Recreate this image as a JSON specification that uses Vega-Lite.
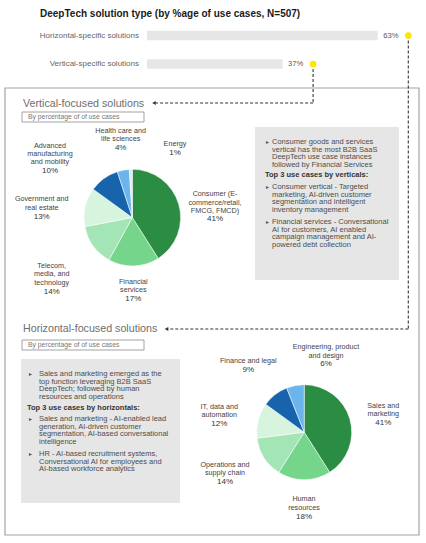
{
 "$schema": "https://vega.github.io/schema/vega-lite/v6.json",
 "width": 426, "height": 543,
 "autosize": {"type": "none"},
 "padding": 0,
 "background": "white",
 "config": {"view": {"stroke": null}, "text": {"font": "Liberation Sans", "fontSize": 7.2, "color": "#444", "align": "left"}},
 "datasets": {
  "blank": [{}],
  "bars": [
   {"type": "Horizontal-specific solutions", "share": 0.63},
   {"type": "Vertical-specific solutions", "share": 0.37}
  ],
  "v": [
   {"k": 1, "sector": "Consumer (E-commerce/retail, FMCG, FMCD)", "share": 0.41, "label": ["Consumer (E-", "commerce/retail,", "FMCG, FMCD)"]},
   {"k": 2, "sector": "Financial services", "share": 0.17, "label": ["Financial", "services"]},
   {"k": 3, "sector": "Telecom, media, and technology", "share": 0.14, "label": ["Telecom,", "media, and", "technology"]},
   {"k": 4, "sector": "Government and real estate", "share": 0.13, "label": ["Government and", "real estate"]},
   {"k": 5, "sector": "Advanced manufacturing and mobility", "share": 0.10, "label": ["Advanced", "manufacturing", "and mobility"]},
   {"k": 6, "sector": "Health care and life sciences", "share": 0.04, "label": ["Health care and", "life sciences"]},
   {"k": 7, "sector": "Energy", "share": 0.01, "label": ["Energy"]}
  ],
  "h": [
   {"k": 1, "sector": "Sales and marketing", "share": 0.41, "label": ["Sales and", "marketing"]},
   {"k": 2, "sector": "Human resources", "share": 0.18, "label": ["Human", "resources"]},
   {"k": 3, "sector": "Operations and supply chain", "share": 0.14, "label": ["Operations and", "supply chain"]},
   {"k": 4, "sector": "IT, data and automation", "share": 0.12, "label": ["IT, data and", "automation"]},
   {"k": 5, "sector": "Finance and legal", "share": 0.09, "label": ["Finance and legal"]},
   {"k": 6, "sector": "Engineering, product and design", "share": 0.06, "label": ["Engineering, product", "and design"]}
  ]
 },
 "resolve": {"scale": {"x": "independent", "y": "independent", "theta": "independent", "color": "independent"}},
 "layer": [
  {"data": {"name": "blank"}, "mark": {"type": "rect", "x": 5, "x2": 419, "y": 88, "y2": 535, "fill": "white", "stroke": "#a3a3a3", "strokeWidth": 1.2}, "encoding": {}},
  {"data": {"name": "blank"}, "mark": {"type": "rect", "x": 255, "x2": 399, "y": 127, "y2": 280, "fill": "#e6e6e6"}, "encoding": {}},
  {"data": {"name": "blank"}, "mark": {"type": "rect", "x": 21, "x2": 180, "y": 359, "y2": 503, "fill": "#e6e6e6"}, "encoding": {}},
  {"data": {"name": "blank"}, "mark": {"type": "rect", "x": 22, "x2": 144, "y": 112, "y2": 122, "fillOpacity": 0, "stroke": "#8a8a8a", "strokeWidth": 0.8}, "encoding": {}},
  {"data": {"name": "blank"}, "mark": {"type": "rect", "x": 22, "x2": 144, "y": 340, "y2": 350, "fillOpacity": 0, "stroke": "#8a8a8a", "strokeWidth": 0.8}, "encoding": {}},
  {"data": {"name": "blank"}, "mark": {"type": "text", "x": 40, "y": 14, "baseline": "middle", "fontSize": 10, "fontWeight": "bold", "color": "#1a1a1a", "text": "DeepTech solution type (by %age of use cases, N=507)"}, "encoding": {}},
  {"data": {"name": "blank"}, "mark": {"type": "text", "x": 23, "y": 104, "baseline": "middle", "fontSize": 10.7, "color": "#6e6e6e", "text": "Vertical-focused solutions"}, "encoding": {}},
  {"data": {"name": "blank"}, "mark": {"type": "text", "x": 23, "y": 329, "baseline": "middle", "fontSize": 10.7, "color": "#6e6e6e", "text": "Horizontal-focused solutions"}, "encoding": {}},
  {"data": {"name": "blank"}, "mark": {"type": "text", "x": 28, "y": 117, "baseline": "middle", "fontSize": 6.8, "color": "#777", "text": "By percentage of of use cases"}, "encoding": {}},
  {"data": {"name": "blank"}, "mark": {"type": "text", "x": 28, "y": 345, "baseline": "middle", "fontSize": 6.8, "color": "#777", "text": "By percentage of of use cases"}, "encoding": {}},
  {"data": {"name": "blank"}, "mark": {"type": "text", "x": 272, "y": 138, "baseline": "top", "fontSize": 7.5, "lineHeight": 7.6, "color": "#4d4d4d", "text": ["Consumer goods and services", "vertical has the most B2B SaaS", "DeepTech use case instances", "followed by Financial Services"]}, "encoding": {}},
  {"data": {"name": "blank"}, "mark": {"type": "text", "x": 265, "y": 175, "baseline": "middle", "fontSize": 7.5, "fontWeight": "bold", "color": "#333", "text": "Top 3 use cases by verticals:"}, "encoding": {}},
  {"data": {"name": "blank"}, "mark": {"type": "text", "x": 272, "y": 183, "baseline": "top", "fontSize": 7.5, "lineHeight": 7.6, "color": "#4d4d4d", "text": ["Consumer vertical - Targeted", "marketing, AI-driven customer", "segmentation and intelligent", "inventory management"]}, "encoding": {}},
  {"data": {"name": "blank"}, "mark": {"type": "text", "x": 272, "y": 218, "baseline": "top", "fontSize": 7.5, "lineHeight": 7.6, "color": "#4d4d4d", "text": ["Financial services - Conversational", "AI for customers, AI enabled", "campaign management and AI-", "powered debt collection"]}, "encoding": {}},
  {"data": {"name": "blank"}, "mark": {"type": "text", "x": 265, "y": 142, "baseline": "middle", "fontSize": 5, "color": "#555", "text": "►"}, "encoding": {}},
  {"data": {"name": "blank"}, "mark": {"type": "text", "x": 265, "y": 187, "baseline": "middle", "fontSize": 5, "color": "#555", "text": "►"}, "encoding": {}},
  {"data": {"name": "blank"}, "mark": {"type": "text", "x": 265, "y": 222, "baseline": "middle", "fontSize": 5, "color": "#555", "text": "►"}, "encoding": {}},
  {"data": {"name": "blank"}, "mark": {"type": "text", "x": 39, "y": 370, "baseline": "top", "fontSize": 7.5, "lineHeight": 7.6, "color": "#4d4d4d", "text": ["Sales and marketing emerged as the", "top function leveraging B2B SaaS", "DeepTech; followed by human", "resources and operations"]}, "encoding": {}},
  {"data": {"name": "blank"}, "mark": {"type": "text", "x": 27, "y": 407.7, "baseline": "middle", "fontSize": 7.5, "fontWeight": "bold", "color": "#333", "text": "Top 3 use cases by horizontals:"}, "encoding": {}},
  {"data": {"name": "blank"}, "mark": {"type": "text", "x": 39, "y": 415.3, "baseline": "top", "fontSize": 7.5, "lineHeight": 7.6, "color": "#4d4d4d", "text": ["Sales and marketing - AI-enabled lead", "generation, AI-driven customer", "segmentation, AI-based conversational", "intelligence"]}, "encoding": {}},
  {"data": {"name": "blank"}, "mark": {"type": "text", "x": 39, "y": 450.3, "baseline": "top", "fontSize": 7.5, "lineHeight": 7.6, "color": "#4d4d4d", "text": ["HR - AI-based recruitment systems,", "Conversational AI for employees and", "AI-based workforce analytics"]}, "encoding": {}},
  {"data": {"name": "blank"}, "mark": {"type": "text", "x": 28, "y": 374, "baseline": "middle", "fontSize": 5, "color": "#555", "text": "►"}, "encoding": {}},
  {"data": {"name": "blank"}, "mark": {"type": "text", "x": 28, "y": 419.3, "baseline": "middle", "fontSize": 5, "color": "#555", "text": "►"}, "encoding": {}},
  {"data": {"name": "blank"}, "mark": {"type": "text", "x": 28, "y": 454.3, "baseline": "middle", "fontSize": 5, "color": "#555", "text": "►"}, "encoding": {}},
  {"data": {"name": "blank"}, "mark": {"type": "rule", "x": 147, "y": 29, "y2": 78, "stroke": "#dcdcdc", "strokeWidth": 1}, "encoding": {}},
  {
   "data": {"name": "bars"},
   "encoding": {
    "y": {"field": "type", "type": "nominal", "bandPosition": 0.5, "scale": {"type": "band", "range": [21.25, 78.25], "paddingInner": 0, "paddingOuter": 0}, "axis": null},
    "x": {"field": "share", "type": "quantitative", "scale": {"domain": [0, 0.63], "range": [147, 377.7]}, "axis": null}
   },
   "layer": [
    {"transform": [{"filter": "datum.type == 'Vertical-specific solutions'"}], "mark": {"type": "rule", "xOffset": 30.6, "strokeDash": [3, 2], "stroke": "#333", "strokeWidth": 1.1}, "encoding": {"y2": {"value": 103}}},
    {"transform": [{"filter": "datum.type == 'Horizontal-specific solutions'"}], "mark": {"type": "rule", "xOffset": 30.6, "strokeDash": [3, 2], "stroke": "#333", "strokeWidth": 1.1}, "encoding": {"y2": {"value": 329}}},
    {"transform": [{"filter": "datum.type == 'Vertical-specific solutions'"}], "mark": {"type": "rule", "xOffset": 30.6, "strokeDash": [3, 2], "stroke": "#333", "strokeWidth": 1.1}, "encoding": {"x2": {"value": 156}, "y": {"value": 103}}},
    {"transform": [{"filter": "datum.type == 'Horizontal-specific solutions'"}], "mark": {"type": "rule", "xOffset": 30.6, "strokeDash": [3, 2], "stroke": "#333", "strokeWidth": 1.1}, "encoding": {"x2": {"value": 168}, "y": {"value": 329}}},
    {"mark": {"type": "bar", "size": 9.5, "color": "#e6e6e6"}},
    {"mark": {"type": "text", "align": "left", "baseline": "middle", "dx": 5.5, "fontSize": 7.6, "color": "#555"}, "encoding": {"text": {"field": "share", "format": ".0%"}}},
    {"mark": {"type": "text", "align": "right", "baseline": "middle", "dx": -8, "fontSize": 8, "color": "#666"}, "encoding": {"x": {"datum": 0, "type": "quantitative"}, "text": {"field": "type"}}},
    {"mark": {"type": "point", "filled": true, "xOffset": 30.6, "size": 45, "color": "#ffe600", "opacity": 1}}
   ]
  },
  {"data": {"name": "blank"}, "mark": {"type": "point", "shape": "triangle-left", "filled": true, "x": 154, "y": 103, "size": 18, "color": "#333", "opacity": 1}, "encoding": {}},
  {"data": {"name": "blank"}, "mark": {"type": "point", "shape": "triangle-left", "filled": true, "x": 166.5, "y": 329, "size": 18, "color": "#333", "opacity": 1}, "encoding": {}},
  {"data": {"name": "blank"}, "mark": {"type": "rule", "x": 181, "y": 206, "x2": 190, "y2": 204, "stroke": "#999", "strokeWidth": 0.7}, "encoding": {}},
  {"data": {"name": "blank"}, "mark": {"type": "rule", "x": 132.5, "y": 266, "x2": 132.5, "y2": 276, "stroke": "#999", "strokeWidth": 0.7}, "encoding": {}},
  {"data": {"name": "blank"}, "mark": {"type": "rule", "x": 92, "y": 246, "x2": 67, "y2": 272, "stroke": "#999", "strokeWidth": 0.7}, "encoding": {}},
  {"data": {"name": "blank"}, "mark": {"type": "rule", "x": 68, "y": 205, "x2": 85, "y2": 205, "stroke": "#999", "strokeWidth": 0.7}, "encoding": {}},
  {"data": {"name": "blank"}, "mark": {"type": "rule", "x": 73, "y": 157, "x2": 103, "y2": 177, "stroke": "#999", "strokeWidth": 0.7}, "encoding": {}},
  {"data": {"name": "blank"}, "mark": {"type": "rule", "x": 124, "y": 154, "x2": 124, "y2": 170, "stroke": "#999", "strokeWidth": 0.7}, "encoding": {}},
  {"data": {"name": "blank"}, "mark": {"type": "rule", "x": 156, "y": 150, "x2": 131, "y2": 169, "stroke": "#999", "strokeWidth": 0.7}, "encoding": {}},
  {"data": {"name": "blank"}, "mark": {"type": "rule", "x": 352, "y": 419, "x2": 366, "y2": 415, "stroke": "#999", "strokeWidth": 0.7}, "encoding": {}},
  {"data": {"name": "blank"}, "mark": {"type": "rule", "x": 304.2, "y": 480, "x2": 304.2, "y2": 492, "stroke": "#999", "strokeWidth": 0.7}, "encoding": {}},
  {"data": {"name": "blank"}, "mark": {"type": "rule", "x": 262, "y": 459, "x2": 250, "y2": 466, "stroke": "#999", "strokeWidth": 0.7}, "encoding": {}},
  {"data": {"name": "blank"}, "mark": {"type": "rule", "x": 240, "y": 416, "x2": 259, "y2": 421, "stroke": "#999", "strokeWidth": 0.7}, "encoding": {}},
  {"data": {"name": "blank"}, "mark": {"type": "rule", "x": 277, "y": 370, "x2": 277, "y2": 394, "stroke": "#999", "strokeWidth": 0.7}, "encoding": {}},
  {"data": {"name": "blank"}, "mark": {"type": "rule", "x": 306, "y": 358, "x2": 295, "y2": 386, "stroke": "#999", "strokeWidth": 0.7}, "encoding": {}},
  {"data": {"name": "blank"}, "mark": {"type": "rule", "x": 306, "y": 358, "x2": 311, "y2": 358, "stroke": "#999", "strokeWidth": 0.7}, "encoding": {}},
  {"data": {"name": "v"}, "mark": {"type": "arc", "x": 132.3, "y": 217.6, "outerRadius": 48.3, "stroke": "white", "strokeWidth": 0.5},
   "encoding": {
    "theta": {"field": "share", "type": "quantitative", "stack": true},
    "order": {"field": "k", "type": "quantitative"},
    "color": {"field": "sector", "type": "nominal", "legend": null, "scale": {"domain": ["Consumer (E-commerce/retail, FMCG, FMCD)", "Financial services", "Telecom, media, and technology", "Government and real estate", "Advanced manufacturing and mobility", "Health care and life sciences", "Energy"], "range": ["#2b8c43", "#74d58b", "#a4e5b5", "#d7f4de", "#1764ad", "#6cb4ec", "#dfe8f1"]}}
   }},
  {"data": {"name": "h"}, "mark": {"type": "arc", "x": 304.2, "y": 432.2, "outerRadius": 47.5, "stroke": "white", "strokeWidth": 0.5},
   "encoding": {
    "theta": {"field": "share", "type": "quantitative", "stack": true},
    "order": {"field": "k", "type": "quantitative"},
    "color": {"field": "sector", "type": "nominal", "legend": null, "scale": {"domain": ["Sales and marketing", "Human resources", "Operations and supply chain", "IT, data and automation", "Finance and legal", "Engineering, product and design"], "range": ["#2b8c43", "#74d58b", "#a4e5b5", "#d7f4de", "#1764ad", "#6cb4ec"]}}
   }},
  {"data": {"name": "v"}, "transform": [{"filter": "datum.k == 1"}], "mark": {"type": "text", "x": 215, "y": 190.3, "align": "center", "baseline": "top", "lineHeight": 8.4}, "encoding": {"text": {"field": "label"}}},
  {"data": {"name": "v"}, "transform": [{"filter": "datum.k == 2"}], "mark": {"type": "text", "x": 133.3, "y": 277.7, "align": "center", "baseline": "top", "lineHeight": 8.4}, "encoding": {"text": {"field": "label"}}},
  {"data": {"name": "v"}, "transform": [{"filter": "datum.k == 3"}], "mark": {"type": "text", "x": 51.7, "y": 262, "align": "center", "baseline": "top", "lineHeight": 8.4}, "encoding": {"text": {"field": "label"}}},
  {"data": {"name": "v"}, "transform": [{"filter": "datum.k == 4"}], "mark": {"type": "text", "x": 41.7, "y": 195.3, "align": "center", "baseline": "top", "lineHeight": 8.8}, "encoding": {"text": {"field": "label"}}},
  {"data": {"name": "v"}, "transform": [{"filter": "datum.k == 5"}], "mark": {"type": "text", "x": 50, "y": 142, "align": "center", "baseline": "top", "lineHeight": 8.1}, "encoding": {"text": {"field": "label"}}},
  {"data": {"name": "v"}, "transform": [{"filter": "datum.k == 6"}], "mark": {"type": "text", "x": 120.7, "y": 127, "align": "center", "baseline": "top", "lineHeight": 8.2}, "encoding": {"text": {"field": "label"}}},
  {"data": {"name": "v"}, "transform": [{"filter": "datum.k == 7"}], "mark": {"type": "text", "x": 175, "y": 140, "align": "center", "baseline": "top", "lineHeight": 8.2}, "encoding": {"text": {"field": "label"}}},
  {"data": {"name": "v"}, "transform": [{"filter": "datum.k == 1"}], "mark": {"type": "text", "x": 215, "y": 219.3, "align": "center", "baseline": "middle", "fontSize": 8, "color": "#333"}, "encoding": {"text": {"field": "share", "format": ".0%"}}},
  {"data": {"name": "v"}, "transform": [{"filter": "datum.k == 2"}], "mark": {"type": "text", "x": 133.3, "y": 299, "align": "center", "baseline": "middle", "fontSize": 8, "color": "#333"}, "encoding": {"text": {"field": "share", "format": ".0%"}}},
  {"data": {"name": "v"}, "transform": [{"filter": "datum.k == 3"}], "mark": {"type": "text", "x": 51.7, "y": 292, "align": "center", "baseline": "middle", "fontSize": 8, "color": "#333"}, "encoding": {"text": {"field": "share", "format": ".0%"}}},
  {"data": {"name": "v"}, "transform": [{"filter": "datum.k == 4"}], "mark": {"type": "text", "x": 41.7, "y": 217.3, "align": "center", "baseline": "middle", "fontSize": 8, "color": "#333"}, "encoding": {"text": {"field": "share", "format": ".0%"}}},
  {"data": {"name": "v"}, "transform": [{"filter": "datum.k == 5"}], "mark": {"type": "text", "x": 50, "y": 171, "align": "center", "baseline": "middle", "fontSize": 8, "color": "#333"}, "encoding": {"text": {"field": "share", "format": ".0%"}}},
  {"data": {"name": "v"}, "transform": [{"filter": "datum.k == 6"}], "mark": {"type": "text", "x": 120.7, "y": 148.3, "align": "center", "baseline": "middle", "fontSize": 8, "color": "#333"}, "encoding": {"text": {"field": "share", "format": ".0%"}}},
  {"data": {"name": "v"}, "transform": [{"filter": "datum.k == 7"}], "mark": {"type": "text", "x": 175, "y": 153.3, "align": "center", "baseline": "middle", "fontSize": 8, "color": "#333"}, "encoding": {"text": {"field": "share", "format": ".0%"}}},
  {"data": {"name": "h"}, "transform": [{"filter": "datum.k == 1"}], "mark": {"type": "text", "x": 383.3, "y": 401.7, "align": "center", "baseline": "top", "lineHeight": 8.6}, "encoding": {"text": {"field": "label"}}},
  {"data": {"name": "h"}, "transform": [{"filter": "datum.k == 2"}], "mark": {"type": "text", "x": 304, "y": 495, "align": "center", "baseline": "top", "lineHeight": 8.7}, "encoding": {"text": {"field": "label"}}},
  {"data": {"name": "h"}, "transform": [{"filter": "datum.k == 3"}], "mark": {"type": "text", "x": 225, "y": 461, "align": "center", "baseline": "top", "lineHeight": 8.3}, "encoding": {"text": {"field": "label"}}},
  {"data": {"name": "h"}, "transform": [{"filter": "datum.k == 4"}], "mark": {"type": "text", "x": 219.3, "y": 402.7, "align": "center", "baseline": "top", "lineHeight": 8.3}, "encoding": {"text": {"field": "label"}}},
  {"data": {"name": "h"}, "transform": [{"filter": "datum.k == 5"}], "mark": {"type": "text", "x": 248.3, "y": 356.7, "align": "center", "baseline": "top", "lineHeight": 8.3}, "encoding": {"text": {"field": "label"}}},
  {"data": {"name": "h"}, "transform": [{"filter": "datum.k == 6"}], "mark": {"type": "text", "x": 326, "y": 342.7, "align": "center", "baseline": "top", "lineHeight": 9}, "encoding": {"text": {"field": "label"}}},
  {"data": {"name": "h"}, "transform": [{"filter": "datum.k == 1"}], "mark": {"type": "text", "x": 383.3, "y": 423.3, "align": "center", "baseline": "middle", "fontSize": 8, "color": "#333"}, "encoding": {"text": {"field": "share", "format": ".0%"}}},
  {"data": {"name": "h"}, "transform": [{"filter": "datum.k == 2"}], "mark": {"type": "text", "x": 304, "y": 516.7, "align": "center", "baseline": "middle", "fontSize": 8, "color": "#333"}, "encoding": {"text": {"field": "share", "format": ".0%"}}},
  {"data": {"name": "h"}, "transform": [{"filter": "datum.k == 3"}], "mark": {"type": "text", "x": 225, "y": 482, "align": "center", "baseline": "middle", "fontSize": 8, "color": "#333"}, "encoding": {"text": {"field": "share", "format": ".0%"}}},
  {"data": {"name": "h"}, "transform": [{"filter": "datum.k == 4"}], "mark": {"type": "text", "x": 219.3, "y": 424.3, "align": "center", "baseline": "middle", "fontSize": 8, "color": "#333"}, "encoding": {"text": {"field": "share", "format": ".0%"}}},
  {"data": {"name": "h"}, "transform": [{"filter": "datum.k == 5"}], "mark": {"type": "text", "x": 248.3, "y": 370, "align": "center", "baseline": "middle", "fontSize": 8, "color": "#333"}, "encoding": {"text": {"field": "share", "format": ".0%"}}},
  {"data": {"name": "h"}, "transform": [{"filter": "datum.k == 6"}], "mark": {"type": "text", "x": 326, "y": 364.3, "align": "center", "baseline": "middle", "fontSize": 8, "color": "#333"}, "encoding": {"text": {"field": "share", "format": ".0%"}}}
 ]
}
